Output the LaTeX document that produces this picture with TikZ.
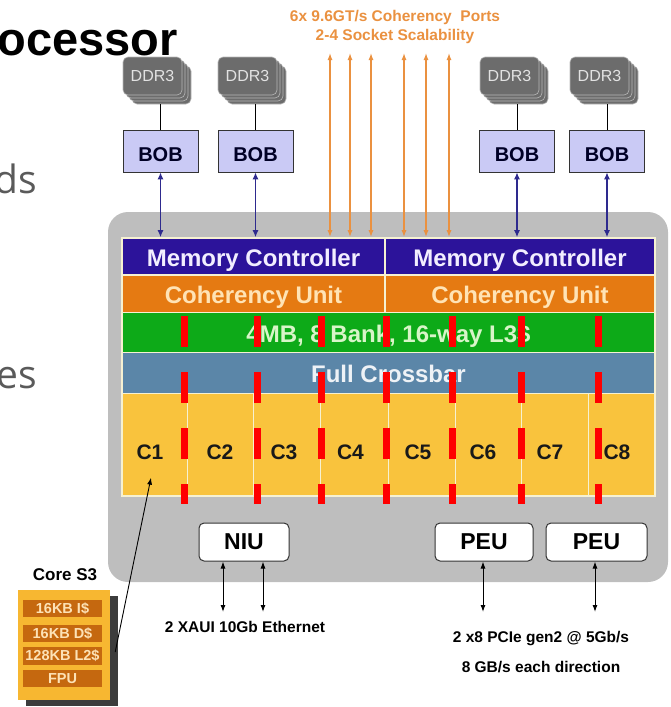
\documentclass[tikz,border=0pt]{standalone}
\usepackage{fontspec}
\setmainfont{Liberation Sans}
\newfontfamily\slidefont{Open Sans}
\usepackage{tikz}
\usetikzlibrary{arrows.meta, shadows}
\definecolor{chipgray}{HTML}{BEBEBE}
\definecolor{ddrgray}{HTML}{6C6C6C}
\definecolor{ddredge}{HTML}{B8B8B8}
\definecolor{ddrtext}{HTML}{E2E2E2}
\definecolor{bobfill}{HTML}{CACAF5}
\definecolor{memblue}{HTML}{2C139A}
\definecolor{memtext}{HTML}{F2EEFF}
\definecolor{cohorange}{HTML}{E57A12}
\definecolor{cohtext}{HTML}{FFE3B5}
\definecolor{cachegreen}{HTML}{0DAA18}
\definecolor{cachetext}{HTML}{D8F5C8}
\definecolor{xbarblue}{HTML}{5B86A8}
\definecolor{xbartext}{HTML}{EEF2F6}
\definecolor{coreyellow}{HTML}{F9C33D}
\definecolor{barline}{HTML}{F6F1D2}
\definecolor{portorange}{HTML}{EA9140}
\definecolor{linkpurple}{HTML}{2E2A8E}
\definecolor{s3yellow}{HTML}{F7B731}
\definecolor{s3brown}{HTML}{C5680F}
\definecolor{s3text}{HTML}{FDE2B6}
\definecolor{s3shadow}{HTML}{3C3C3C}
\definecolor{slidegray}{HTML}{5A5A5A}

\begin{document}
\begin{tikzpicture}[
  x=1pt, y=-1pt,
  ddr/.style={fill=ddrgray, draw=ddredge, line width=0.6pt, rounded corners=5pt, minimum width=59pt, minimum height=38pt, inner sep=0pt, text=ddrtext, font=\fontsize{16}{16}\selectfont,
    copy shadow={shadow xshift=9pt, shadow yshift=-9pt},
    copy shadow={shadow xshift=6pt, shadow yshift=-6pt},
    copy shadow={shadow xshift=3pt, shadow yshift=-3pt}},
  bob/.style={fill=bobfill, draw=black!80, line width=0.8pt, minimum width=75pt, minimum height=42pt, inner sep=0pt, font=\bfseries\fontsize{20}{20}\selectfont, text=black!85!blue, text height=20pt, text depth=0pt},
  bar/.style={draw=barline, line width=1.6pt, inner sep=0pt, font=\bfseries\fontsize{24}{24}\selectfont, text height=19.2pt, text depth=0pt},
  iobox/.style={draw=black!80, fill=white, line width=1pt, rounded corners=5pt, minimum height=38pt, inner sep=0pt, font=\bfseries\fontsize{23}{23}\selectfont},
  corelabel/.style={inner sep=0pt, font=\bfseries\fontsize{21}{21}\selectfont, text=black!90},
  s3row/.style={fill=s3brown, minimum width=79pt, minimum height=17.5pt, inner sep=0pt, text=s3text, font=\bfseries\fontsize{14.5}{14.5}\selectfont},
  note/.style={inner sep=0pt, align=center, font=\bfseries\fontsize{15.5}{30}\selectfont},
  port/.style={{Latex[length=7pt,width=5pt]}-{Latex[length=7pt,width=5pt]}, line width=1.3pt, color=portorange},
  memlink/.style={{Latex[length=7pt,width=6pt]}-{Latex[length=7pt,width=6pt]}, line width=1.2pt, color=linkpurple},
  iolink/.style={{Latex[length=7pt,width=5pt]}-{Latex[length=7pt,width=5pt]}, line width=1pt, color=black},
  ddrlink/.style={line width=1pt, color=black, shorten <=9pt},
  corelink/.style={-{Latex[length=7pt,width=5pt]}, line width=0.9pt, color=black},
  reddash/.style={line width=7pt, color=red, dash pattern=on 31pt off 25pt}
]
\useasboundingbox (0,0) rectangle (671,707);

% slide text behind the figure
\node[anchor=base east, inner sep=0pt, font=\bfseries\fontsize{47}{47}\selectfont] (title) at (178,55) {ocessor};
\node[anchor=base east, inner sep=0pt, text=slidegray, font=\slidefont\fontsize{39}{39}\selectfont] (bullettop) at (37,193) {ds};
\node[anchor=base east, inner sep=0pt, text=slidegray, font=\slidefont\fontsize{39}{39}\selectfont] (bulletlow) at (37,388) {es};

% chip outline
\node[fill=chipgray, rounded corners=20pt, minimum width=560pt, minimum height=370pt, inner sep=0pt] (chip) at (388,397) {};

% memory side
\node[bob] (bob1) at (160.5,151) {BOB};
\node[bob] (bob2) at (255.5,151) {BOB};
\node[bob] (bob3) at (517,151) {BOB};
\node[bob] (bob4) at (607,151) {BOB};
\node[ddr] (ddr1) at (152.5,76) {DDR3};
\node[ddr] (ddr2) at (247.5,76) {DDR3};
\node[ddr] (ddr3) at (509.5,76) {DDR3};
\node[ddr] (ddr4) at (599.5,76) {DDR3};

% on-chip blocks
\node[bar, fill=memblue, text=memtext, minimum width=263pt, minimum height=37pt] (mcl) at (253.5,256.5) {Memory Controller};
\node[bar, fill=memblue, text=memtext, minimum width=270pt, minimum height=37pt] (mcr) at (520,256.5) {Memory Controller};
\node[bar, fill=cohorange, text=cohtext, minimum width=263pt, minimum height=37.5pt] (cul) at (253.5,293.75) {Coherency Unit};
\node[bar, fill=cohorange, text=cohtext, minimum width=270pt, minimum height=37.5pt] (cur) at (520,293.75) {Coherency Unit};
\node[bar, fill=cachegreen, text=cachetext, minimum width=533pt, minimum height=40pt] (l3) at (388.5,332.5) {4MB, 8 Bank, 16-way L3\$};
\node[bar, fill=xbarblue, text=xbartext, minimum width=533pt, minimum height=41pt] (xbar) at (388.5,373) {Full Crossbar};
\node[bar, fill=coreyellow, minimum width=533pt, minimum height=102.5pt] (cores) at (388.5,444.75) {};
\draw[barline, line width=1pt] (187,393.5) -- (187,496);
\draw[barline, line width=1pt] (253,393.5) -- (253,496);
\draw[barline, line width=1pt] (320,393.5) -- (320,496);
\draw[barline, line width=1pt] (388,393.5) -- (388,496);
\draw[barline, line width=1pt] (455,393.5) -- (455,496);
\draw[barline, line width=1pt] (521,393.5) -- (521,496);
\draw[barline, line width=1pt] (588,393.5) -- (588,496);
\node[corelabel] (c1) at (150,452) {C1};
\node[corelabel] (c2) at (220,452) {C2};
\node[corelabel] (c3) at (284,452) {C3};
\node[corelabel] (c4) at (350.5,452) {C4};
\node[corelabel] (c5) at (418,452) {C5};
\node[corelabel] (c6) at (483,452) {C6};
\node[corelabel] (c7) at (550,452) {C7};
\node[corelabel] (c8) at (617,452) {C8};

% red marks
\draw[reddash] (184,316) -- (184,504);
\draw[reddash] (257,316) -- (257,504);
\draw[reddash] (321,316) -- (321,504);
\draw[reddash] (386,316) -- (386,504);
\draw[reddash] (452,316) -- (452,504);
\draw[reddash] (521,316) -- (521,504);
\draw[reddash] (598,316) -- (598,504);

% I/O units
\node[iobox, minimum width=90pt] (niu) at (244,542) {NIU};
\node[iobox, minimum width=98pt] (peu1) at (484,542) {PEU};
\node[iobox, minimum width=101pt] (peu2) at (596.5,542) {PEU};

% coherency ports
\node[note, text=portorange, font=\bfseries\fontsize{15.5}{19.5}\selectfont] (ports) at (395,27) {6x 9.6GT/s Coherency\ \ Ports\\2-4 Socket Scalability};
\coordinate (port1) at (330,53);
\coordinate (port2) at (350,53);
\coordinate (port3) at (371,53);
\coordinate (port4) at (404,53);
\coordinate (port5) at (426,53);
\coordinate (port6) at (449,53);
\draw[port] (port1) -- (port1 |- mcl.north);
\draw[port] (port2) -- (port2 |- mcl.north);
\draw[port] (port3) -- (port3 |- mcl.north);
\draw[port] (port4) -- (port4 |- mcr.north);
\draw[port] (port5) -- (port5 |- mcr.north);
\draw[port] (port6) -- (port6 |- mcr.north);

% memory links
\draw[ddrlink] (ddr1.south -| bob1.north) -- (bob1.north);
\draw[ddrlink] (ddr2.south -| bob2.north) -- (bob2.north);
\draw[ddrlink] (ddr3.south -| bob3.north) -- (bob3.north);
\draw[ddrlink] (ddr4.south -| bob4.north) -- (bob4.north);
\draw[memlink] (bob1.south) -- (bob1.south |- mcl.north);
\draw[memlink] (bob2.south) -- (bob2.south |- mcl.north);
\draw[memlink] (bob3.south) -- (bob3.south |- mcr.north);
\draw[memlink] (bob4.south) -- (bob4.south |- mcr.north);

% external I/O
\coordinate (eth1) at (223,612);
\coordinate (eth2) at (263,612);
\coordinate (pcie1) at (483,612);
\coordinate (pcie2) at (595,612);
\draw[iolink] (eth1 |- niu.south) -- (eth1);
\draw[iolink] (eth2 |- niu.south) -- (eth2);
\draw[iolink] (pcie1 |- peu1.south) -- (pcie1);
\draw[iolink] (pcie2 |- peu2.south) -- (pcie2);
\node[note] (ethtext) at (245,627) {2 XAUI 10Gb Ethernet};
\node[note] (pcietext) at (541,652) {2 x8 PCIe gen2 @ 5Gb/s\\8 GB/s each direction};

% core detail
\node[inner sep=0pt, font=\bfseries\fontsize{17}{17}\selectfont] (s3title) at (65,575) {Core S3};
\node[fill=s3yellow, minimum width=92pt, minimum height=110pt, inner sep=0pt,
  general shadow={shadow xshift=8pt, shadow yshift=-6pt, fill=s3shadow}] (s3) at (64,645) {};
\node[s3row] (s3icache) at (62.5,608.5) {16KB I\$};
\node[s3row] (s3dcache) at (62.5,633.5) {16KB D\$};
\node[s3row] (s3l2) at (62.5,656) {128KB L2\$};
\node[s3row] (s3fpu) at (62.5,678.5) {FPU};
\draw[corelink] ([xshift=5pt, yshift=-7pt]s3.east) -- ([xshift=1pt, yshift=-18pt]c1.south);
\end{tikzpicture}
\end{document}
